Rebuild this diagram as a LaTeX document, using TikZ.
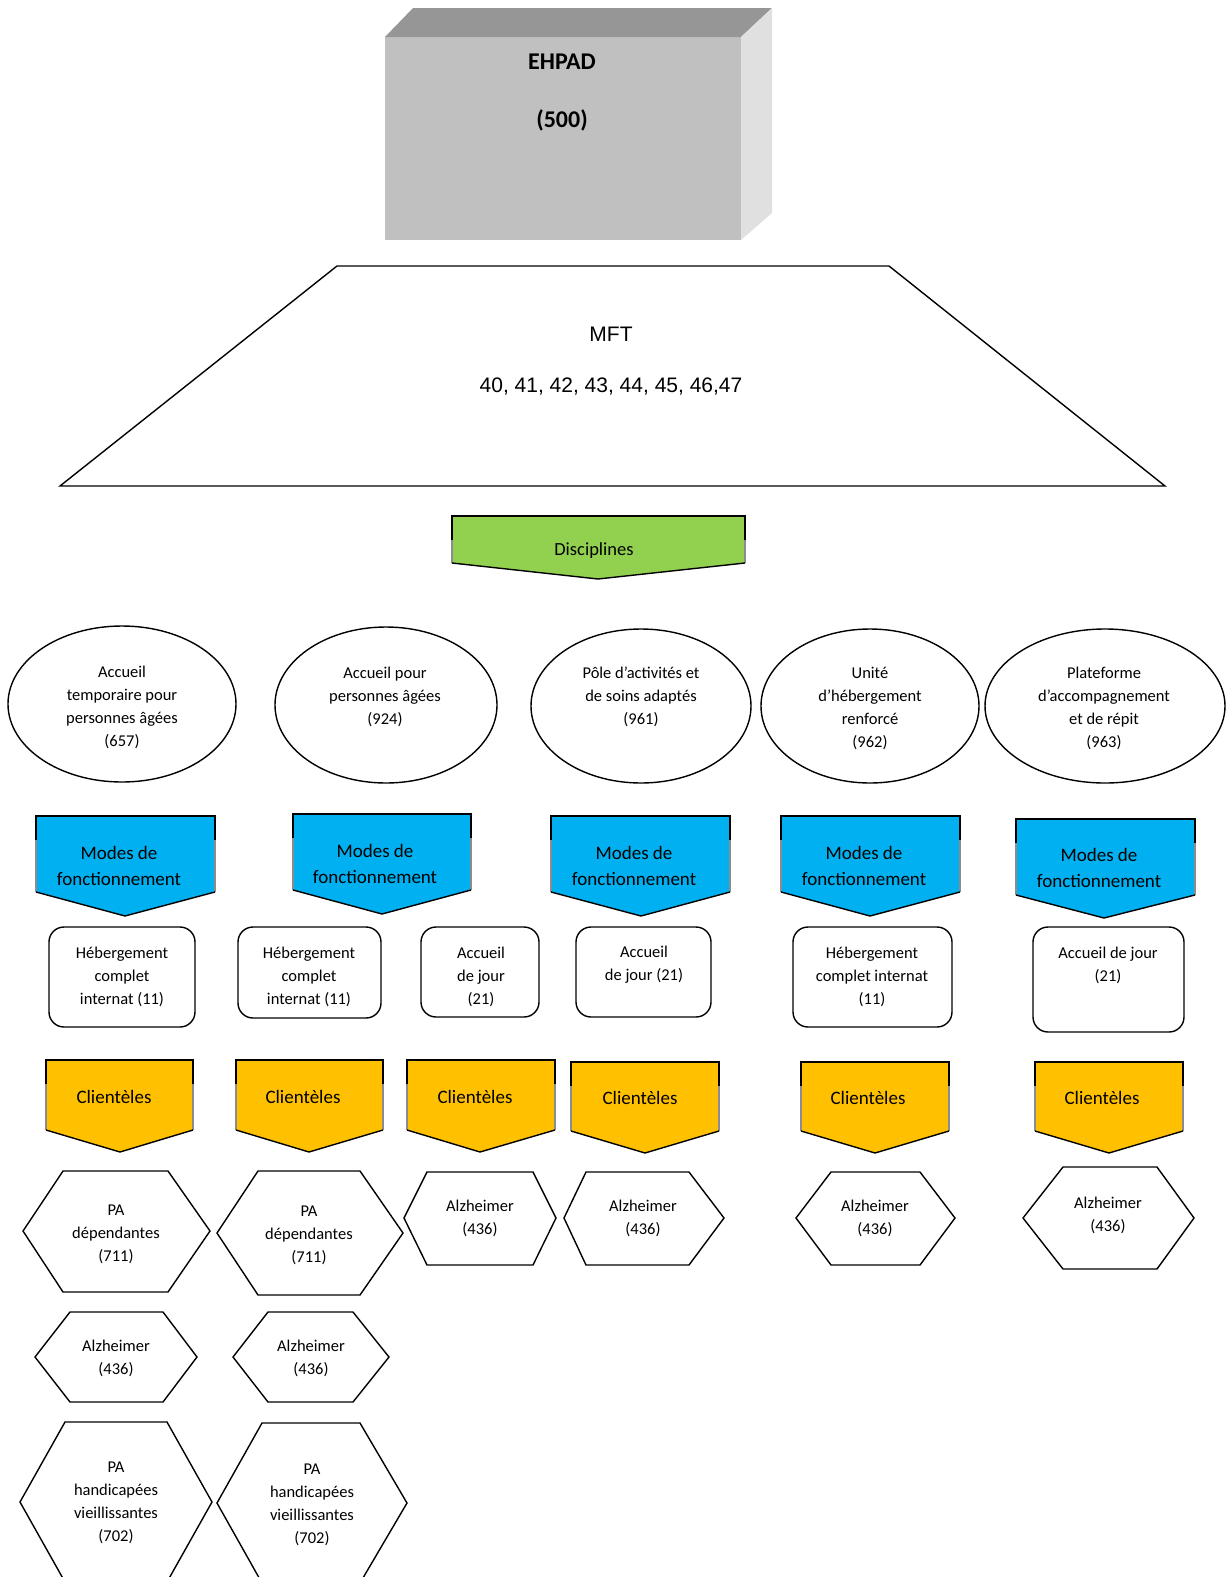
\documentclass[tikz,border=0pt]{standalone}
\usepackage{fontspec}
\setmainfont{Carlito}
\newfontfamily\arialfont{Liberation Sans}
\definecolor{bluefill}{HTML}{00B0F0}
\definecolor{yelfill}{HTML}{FFC000}
\definecolor{greenfill}{HTML}{92D050}
\definecolor{frontgray}{HTML}{C0C0C0}
\definecolor{topgray}{HTML}{969696}
\definecolor{sidegray}{HTML}{E0E0E0}
% chevron: #1 left, #2 right, #3 top, #4 side bottom, #5 tip x, #6 tip y, #7 fill
\newcommand\mychevron[7]{%
  \fill[#7] (#1,#3) -- (#2,#3) -- (#2,#4) -- (#5,#6) -- (#1,#4) -- cycle;
  \draw[shapeline] (#1,#3+24) -- (#1,#3) -- (#2,#3) -- (#2,#3+24);
  \draw[shadeline] (#1,#3+24) -- (#1,#4) (#2,#3+24) -- (#2,#4);
  \draw[shapeline] (#1,#4) -- (#5,#6) -- (#2,#4);
}
% hexagon: #1 left, #2 inner left, #3 inner right, #4 right, #5 top, #6 middle, #7 bottom
\newcommand\myhexa[7]{%
  \draw[shapeline] (#1,#6) -- (#2,#5) -- (#3,#5) -- (#4,#6) -- (#3,#7) -- (#2,#7) -- cycle;
}
\begin{document}
\begin{tikzpicture}[x=1pt,y=-1pt,
  shapeline/.style={line width=1.4pt,black,line join=miter},
  shadeline/.style={line width=2pt,black!45},
  txt/.style={font=\fontsize{16.5}{23}\selectfont,align=center,inner sep=0pt},
  chtxt/.style={font=\fontsize{19}{26}\selectfont,align=center,inner sep=0pt},
  rbox/.style={draw,line width=1.4pt,rounded corners=15pt}]
\useasboundingbox (0,0) rectangle (1226,1577);
\clip (0,0) rectangle (1226,1577);

% EHPAD block
\fill[frontgray] (385,37) rectangle (741,240);
\fill[topgray] (385,37) -- (413,8) -- (772,8) -- (741,37) -- cycle;
\fill[sidegray] (741,37) -- (772,8) -- (772,213) -- (741,240) -- cycle;
\node[font=\bfseries\fontsize{24}{28}\selectfont,inner sep=0pt] (ehpad) at (562,62) {EHPAD};
\node[font=\bfseries\fontsize{24}{28}\selectfont,inner sep=0pt] (ehpadnum) at (562,120) {(500)};

% MFT trapezoid
\draw[shapeline] (337,266) -- (889,266) -- (1165,486) -- (60,486) -- cycle;
\node[font=\arialfont\fontsize{21}{25}\selectfont,inner sep=0pt] (mft) at (611,334) {MFT};
\node[font=\arialfont\fontsize{21}{25}\selectfont,inner sep=0pt] (mftnum) at (611,387) {40, 41, 42, 43, 44, 45, 46,47};

% Disciplines
\mychevron{452}{745}{516}{563}{598}{579}{greenfill}
\node[chtxt,font=\fontsize{18.5}{26}\selectfont] (disc) at (594,551) {Disciplines};

% Ellipses
\draw[shapeline] (122,704) ellipse [x radius=114, y radius=78];
\draw[shapeline] (386,705) ellipse [x radius=111, y radius=78];
\draw[shapeline] (641,706) ellipse [x radius=110, y radius=77];
\draw[shapeline] (870,706) ellipse [x radius=109, y radius=77];
\draw[shapeline] (1105,706) ellipse [x radius=120, y radius=77];
\node[txt] (e1) at (122,707) {Accueil\\temporaire pour\\personnes âgées\\(657)};
\node[txt] (e2) at (385,697) {Accueil pour\\personnes âgées\\(924)};
\node[txt] (e3) at (641,697) {Pôle d’activités et\\de soins adaptés\\(961)};
\node[txt] (e4) at (870,708) {Unité\\d’hébergement\\renforcé\\(962)};
\node[txt] (e5) at (1104,708) {Plateforme\\d’accompagnement\\et de répit\\(963)};

% Modes de fonctionnement
\mychevron{36}{215}{816}{892}{125}{916}{bluefill}
\mychevron{293}{471}{814}{890}{382}{914}{bluefill}
\mychevron{551}{730}{816}{892}{641}{916}{bluefill}
\mychevron{781}{960}{816}{892}{870}{916}{bluefill}
\mychevron{1016}{1195}{819}{895}{1104}{918}{bluefill}
\node[chtxt] (m1) at (119,866) {Modes de\\fonctionnement};
\node[chtxt] (m2) at (375,864) {Modes de\\fonctionnement};
\node[chtxt] (m3) at (634,866) {Modes de\\fonctionnement};
\node[chtxt] (m4) at (864,866) {Modes de\\fonctionnement};
\node[chtxt] (m5) at (1099,868) {Modes de\\fonctionnement};

% Rounded boxes
\draw[rbox] (49,927) rectangle (195,1027);
\draw[rbox] (238,927) rectangle (381,1018);
\draw[rbox] (421,927) rectangle (539,1017);
\draw[rbox] (576,927) rectangle (711,1017);
\draw[rbox] (793,927) rectangle (952,1027);
\draw[rbox] (1033,927) rectangle (1184,1032);
\node[txt] (b1) at (122,977) {Hébergement\\complet\\internat (11)};
\node[txt] (b2) at (309,977) {Hébergement\\complet\\internat (11)};
\node[txt] (b3) at (481,977) {Accueil\\de jour\\(21)};
\node[txt] (b4) at (644,965) {Accueil\\de jour (21)};
\node[txt] (b5) at (872,977) {Hébergement\\complet internat\\(11)};
\node[txt] (b6) at (1108,965) {Accueil de jour\\(21)};

% Clienteles
\mychevron{46}{193}{1060}{1130}{120}{1152}{yelfill}
\mychevron{236}{383}{1060}{1130}{309}{1152}{yelfill}
\mychevron{407}{555}{1060}{1130}{480}{1152}{yelfill}
\mychevron{571}{719}{1062}{1131}{645}{1153}{yelfill}
\mychevron{801}{949}{1062}{1131}{875}{1153}{yelfill}
\mychevron{1035}{1183}{1062}{1131}{1109}{1153}{yelfill}
\node[chtxt] (c1) at (114,1097) {Clientèles};
\node[chtxt] (c2) at (303,1097) {Clientèles};
\node[chtxt] (c3) at (475,1097) {Clientèles};
\node[chtxt] (c4) at (640,1098) {Clientèles};
\node[chtxt] (c5) at (868,1098) {Clientèles};
\node[chtxt] (c6) at (1102,1098) {Clientèles};

% Hexagons
\myhexa{23}{63}{168}{210}{1171}{1231}{1292}
\myhexa{217}{258}{360}{403}{1171}{1233}{1295}
\myhexa{404}{427}{533}{556}{1172}{1218}{1265}
\myhexa{564}{586}{689}{724}{1172}{1218}{1265}
\myhexa{796}{831}{920}{955}{1172}{1218}{1265}
\myhexa{1023}{1063}{1157}{1194}{1167}{1218}{1269}
\myhexa{35}{70}{163}{197}{1312}{1357}{1402}
\myhexa{233}{268}{353}{389}{1312}{1357}{1402}
\myhexa{20}{65}{167}{212}{1422}{1502}{1582}
\myhexa{217}{262}{360}{407}{1423}{1503}{1583}
\node[txt] (h1) at (116,1234) {PA\\dépendantes\\(711)};
\node[txt] (h2) at (309,1235) {PA\\dépendantes\\(711)};
\node[txt] (h3) at (480,1218) {Alzheimer\\(436)};
\node[txt] (h4) at (643,1218) {Alzheimer\\(436)};
\node[txt] (h5) at (875,1218) {Alzheimer\\(436)};
\node[txt] (h6) at (1108,1215) {Alzheimer\\(436)};
\node[txt] (h7) at (116,1358) {Alzheimer\\(436)};
\node[txt] (h8) at (311,1358) {Alzheimer\\(436)};
\node[txt] (h9) at (116,1503) {PA\\handicapées\\vieillissantes\\(702)};
\node[txt] (h10) at (312,1505) {PA\\handicapées\\vieillissantes\\(702)};
\end{tikzpicture}
\end{document}
